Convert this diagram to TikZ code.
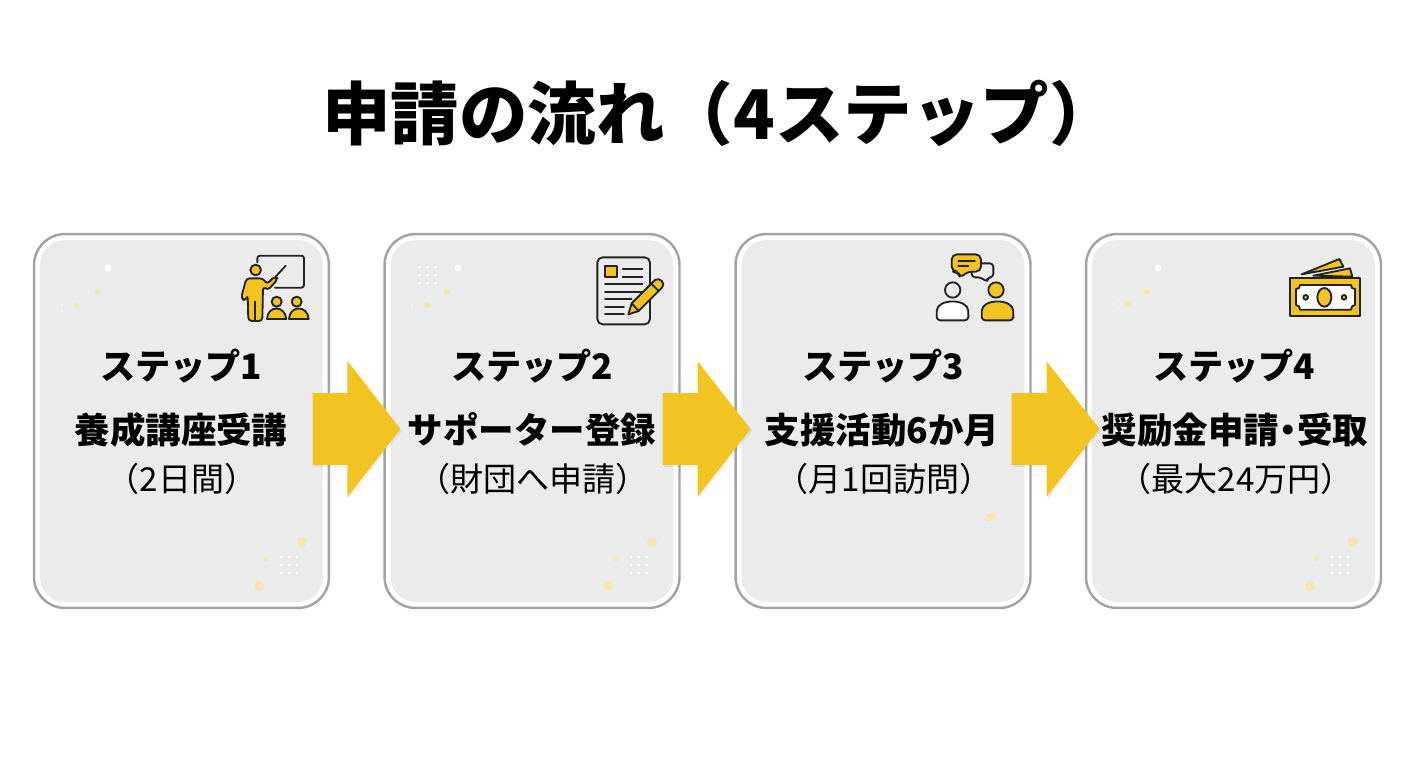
\documentclass[tikz,border=0pt]{standalone}
\usepackage{fontspec}
\setmainfont{Noto Sans CJK JP}
\newfontfamily\heavyfont{Noto Sans CJK JP Black}
\usetikzlibrary{shapes.arrows,shadows}

\tikzset{
    cardouter/.style={draw=cardline, line width=1.4pt, fill=white, rounded corners=0.62cm, minimum width=5.9cm, minimum height=7.48cm, inner sep=0pt},
    cardinner/.style={fill=cardfill, rounded corners=0.5cm, minimum width=5.66cm, minimum height=7.24cm, inner sep=0pt},
    bigarrow/.style={single arrow, fill=arrowyellow, minimum height=1.76cm, inner xsep=0pt, inner ysep=0.71cm, single arrow head extend=0.64cm, single arrow tip angle=104, drop shadow={opacity=0.12, shadow xshift=0.03cm, shadow yshift=-0.04cm}},
    titletext/.style={font=\fontsize{39}{42}\selectfont\heavyfont},
    steptext/.style={font=\fontsize{20}{23}\selectfont\heavyfont},
    nametext/.style={font=\fontsize{20.2}{23}\selectfont\heavyfont},
    notetext/.style={font=\fontsize{18.8}{22}\selectfont},
    icon/.style={draw=icondark, line width=1.05pt, line join=round, line cap=round},
    iconfill/.style={icon, fill=arrowyellow},
    whitedot/.style={fill=white},
    softdot/.style={fill=softyellow}
}
\definecolor{cardline}{HTML}{A3A3A3}
\definecolor{cardfill}{HTML}{EBEBEB}
\definecolor{arrowyellow}{HTML}{F2C422}
\definecolor{softyellow}{HTML}{F6E6AE}
\definecolor{icondark}{HTML}{222222}

\begin{document}
\begin{tikzpicture}[x=0.02cm, y=-0.02cm]
    \useasboundingbox (0,0) rectangle (1408,768);

    % Titulo
    \node[titletext] (title) at (720,113) {申請の流れ（4ステップ）};

    % Tarjetas
    \node[cardouter] (card1) at (181.5,421) {};
    \node[cardinner] (inner1) at (181.5,421) {};
    \node[cardouter] (card2) at (532,421) {};
    \node[cardinner] (inner2) at (532,421) {};
    \node[cardouter] (card3) at (883,421) {};
    \node[cardinner] (inner3) at (883,421) {};
    \node[cardouter] (card4) at (1233.5,421) {};
    \node[cardinner] (inner4) at (1233.5,421) {};

    % Puntos arriba a la izquierda
    \fill[whitedot] (108,268) circle (3.5);
    \fill[softdot] (97,292) circle (2.5);
    \fill[softdot] (77,305) circle (2.5);
    \fill[whitedot] (62,305) circle (1);

    \fill[whitedot] (458,268) circle (3.5);
    \fill[softdot] (447,292) circle (3);
    \fill[softdot] (427,305) circle (3);
    \fill[whitedot] (412,305) circle (1);
    \foreach \px in {419.5,427.5,435.5}
        \foreach \py in {267,275,283}
            \fill[whitedot] (\px,\py) circle (1.7);

    \fill[whitedot] (1158,268) circle (3.5);
    \fill[softdot] (1147,292) circle (3);
    \fill[softdot] (1128,304) circle (3);
    \fill[whitedot] (1113,304) circle (1);

    % Puntos abajo a la derecha
    \fill[softdot] (302,542) circle (5);
    \fill[softdot] (266,559) circle (2.5);
    \fill[softdot] (259,586) circle (5);
    \foreach \px in {281,289,297}
        \foreach \py in {557,565,573}
            \fill[whitedot] (\px,\py) circle (1.7);

    \fill[softdot] (652,542) circle (5);
    \fill[softdot] (616,559) circle (2.5);
    \fill[softdot] (608,586) circle (5);
    \foreach \px in {631,639,647}
        \foreach \py in {557,565,573}
            \fill[whitedot] (\px,\py) circle (1.7);

    \fill[softdot, rotate around={25:(990,517)}] (990,517) ellipse (6.5 and 3.5);

    \fill[softdot] (1353,542) circle (5);
    \fill[softdot] (1317,559) circle (2.5);
    \fill[softdot] (1310,586) circle (5);
    \foreach \px in {1332,1340,1348}
        \foreach \py in {557,565,573}
            \fill[whitedot] (\px,\py) circle (1.7);

    % Flechas entre tarjetas
    \node[bigarrow] (arrow1) at (342.5,429) {};
    \node[bigarrow] (arrow2) at (692.5,429) {};
    \node[bigarrow] (arrow3) at (1041.5,429) {};

    % Textos de cada paso
    \node[steptext] (step1) at (181,366) {ステップ1};
    \node[nametext] (name1) at (181,430) {養成講座受講};
    \node[notetext] (note1) at (182,479) {（2日間）};

    \node[steptext] (step2) at (532,366) {ステップ2};
    \node[nametext] (name2) at (532,430) {サポーター登録};
    \node[notetext] (note2) at (533,479) {（財団へ申請）};

    \node[steptext] (step3) at (883,366) {ステップ3};
    \node[nametext] (name3) at (882,430) {支援活動6か月};
    \node[notetext] (note3) at (884,479) {（月1回訪問）};

    \node[steptext] (step4) at (1234,366) {ステップ4};
    \node[nametext] (name4) at (1235,430) {奨励金申請\kern-0.25em・\kern-0.25em 受取};
    \node[notetext] (note4) at (1236,479) {（最大24万円）};

    % Icono 1: profesor
    \begin{scope}[shift={(225,245)}, x=0.00667cm, y=-0.00667cm]
        \draw[icon, rounded corners=1.5pt] (97,52) -- (97,32) -- (237,32) -- (237,128) -- (150,128);
        \draw[icon] (152,95) -- (182,62);
        \draw[iconfill] (92,75) circle (16);
        \draw[iconfill, rounded corners=2pt] (64,100) -- (115,100) -- (125,118) -- (150,93) -- (159,102) -- (128,136) -- (114,124) -- (112,228) -- (70,228) -- (68,150) -- (62,168) -- (48,160) -- cycle;
        \draw[icon] (91,170) -- (91,228);
        \draw[iconfill] (155,170) circle (15);
        \draw[iconfill] (215,170) circle (15);
        \draw[iconfill] (126,222) .. controls (128,180) and (180,180) .. (184,222) -- cycle;
        \draw[iconfill] (192,222) .. controls (194,180) and (248,180) .. (251,222) -- cycle;
    \end{scope}

    % Icono 2: documento y lapiz
    \begin{scope}[shift={(580,245)}, x=0.00667cm, y=-0.00667cm]
        \draw[icon, rounded corners=3pt] (52,37) rectangle (210,238);
        \draw[iconfill] (75,62) rectangle (110,97);
        \draw[icon] (128,72) -- (187,72);
        \draw[icon] (128,95) -- (187,95);
        \draw[icon] (75,118) -- (187,118);
        \draw[icon] (75,140) -- (187,140);
        \draw[icon] (75,162) -- (155,162);
        \draw[icon] (75,185) -- (132,185);
        \draw[icon] (75,208) -- (132,208);
        \draw[iconfill] (145,208) -- (155,175) -- (225,105) .. controls (240,95) and (258,115) .. (246,128) -- (176,198) -- cycle;
        \draw[icon] (214,116) -- (236,138);
        \draw[icon] (155,175) -- (176,198);
    \end{scope}

    % Icono 3: dos personas conversando
    \begin{scope}[shift={(925,245)}, x=0.00667cm, y=-0.00667cm]
        \draw[icon, rounded corners=2pt] (168,55) -- (205,55) -- (205,97) -- (187,97) -- (187,112) -- (168,97) -- (140,97) -- (140,80);
        \draw[iconfill, rounded corners=3pt] (80,28) -- (168,28) -- (168,80) -- (125,80) -- (106,100) -- (100,80) -- (80,80) -- cycle;
        \draw[icon] (100,47) -- (150,47);
        \draw[icon] (100,62) -- (130,62);
        \draw[icon] (83,135) circle (23);
        \draw[icon, fill=white, rounded corners=2pt] (35,226) -- (35,208) .. controls (36,160) and (129,160) .. (130,208) -- (130,226) -- cycle;
        \draw[iconfill] (213,135) circle (23);
        \draw[iconfill, rounded corners=2pt] (170,226) -- (170,208) .. controls (171,160) and (264,160) .. (265,208) -- (265,226) -- cycle;
    \end{scope}

    % Icono 4: billetes
    \begin{scope}[shift={(1275,245)}, x=0.00667cm, y=-0.00667cm]
        \draw[iconfill] (80,88) -- (193,42) -- (205,65) -- cycle;
        \draw[iconfill] (115,92) -- (225,70) -- (232,95) -- cycle;
        \draw[iconfill] (45,100) rectangle (255,212);
        \draw[icon, fill=white] (75,120) -- (228,120) .. controls (228,128) and (232,132) .. (240,132) -- (240,180) .. controls (232,180) and (228,186) .. (228,194) -- (75,194) .. controls (75,186) and (71,180) .. (63,180) -- (63,132) .. controls (71,132) and (75,128) .. (75,120) -- cycle;
        \draw[iconfill] (148,157) ellipse (21 and 28);
        \draw[iconfill] (92,157) circle (7);
        \draw[iconfill] (207,157) circle (7);
    \end{scope}
\end{tikzpicture}
\end{document}
